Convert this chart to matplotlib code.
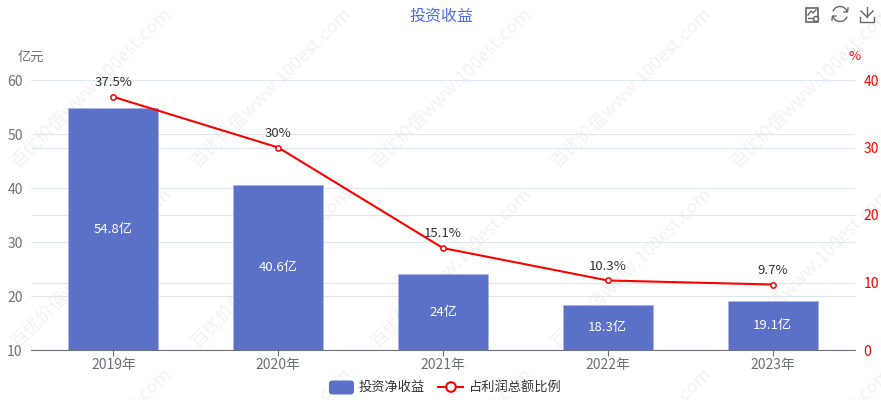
import matplotlib
matplotlib.use("Agg")
import matplotlib.pyplot as plt
from matplotlib.patches import Arc, Circle, FancyBboxPatch, Rectangle

plt.rcParams["font.family"] = ["Noto Sans CJK SC", "DejaVu Sans"]
plt.rcParams["axes.unicode_minus"] = False

W, H = 881, 400

years = ["2019年", "2020年", "2021年", "2022年", "2023年"]
income = [54.8, 40.6, 24, 18.3, 19.1]
income_labels = ["54.8亿", "40.6亿", "24亿", "18.3亿", "19.1亿"]
ratio = [37.5, 30, 15.1, 10.3, 9.7]
ratio_labels = ["37.5%", "30%", "15.1%", "10.3%", "9.7%"]
left_ticks = [10, 20, 30, 40, 50, 60]
right_ticks = [0, 10, 20, 30, 40]

BLUE = "#5b70c7"
GREY = "#6e7079"
GRID = "#e0e6f1"
RED = "#ff0000"
ICON = "#666666"

fig = plt.figure(figsize=(W / 100, H / 100), dpi=100)

# 画素座標で描く背景用と前面用の軸
bg = fig.add_axes([0, 0, 1, 1], zorder=0)
bg.set_xlim(0, W)
bg.set_ylim(H, 0)
bg.axis("off")
top = fig.add_axes([0, 0, 1, 1], zorder=5)
top.set_xlim(0, W)
top.set_ylim(H, 0)
top.axis("off")

# 透かし
for row_y in [168, 348, 528]:
    for x0 in [18, 198, 378, 558, 738]:
        bg.text(x0, row_y, "百优价值www.100est.com", fontsize=13, color="#f2f2f2", rotation=45,
                rotation_mode="anchor", ha="left", va="baseline", clip_on=True)

ax = fig.add_axes([31 / W, 1 - 350 / H, 824 / W, 270 / H], zorder=2)
ax.patch.set_visible(False)
ax2 = ax.twinx()
ax2.set_zorder(3)
ax2.patch.set_visible(False)

xs = list(range(len(years)))
ax.yaxis.grid(True, color=GRID, linewidth=0.8, zorder=1)
# 右軸の目盛線も棒の下に置く
ax.hlines([(v / 10) * 12.5 + 10 for v in right_ticks], -0.5, 4.5, color=GRID, linewidth=0.8, zorder=1)
ax.set_axisbelow(True)
bars = ax.bar(xs, income, width=90 / 164.8, color=BLUE, edgecolor="#a9b5e6", linewidth=0.5, zorder=2)
ax.set_xlim(-0.5, 4.5)
ax.set_ylim(10, 60)
ax.set_yticks(left_ticks)
ax.set_xticks(xs)
ax.set_xticklabels(years)
ax.tick_params(axis="x", colors=GREY, labelsize=10, length=4, width=0.8, pad=2)
ax.tick_params(axis="y", colors=GREY, labelsize=10, length=0, pad=6)
for b, t in zip(bars, income_labels):
    ax.text(b.get_x() + b.get_width() / 2, (b.get_height() + 10) / 2, t,
            color="white", fontsize=9.5, ha="center", va="center", zorder=5)

ax2.set_ylim(0, 40)
ax2.set_yticks(right_ticks)
ax2.tick_params(axis="y", colors=RED, labelsize=10, length=0, pad=6)
ax2.plot(xs, ratio, color=RED, linewidth=1.5, marker="o", markersize=3.8,
         markerfacecolor="white", markeredgecolor=RED, markeredgewidth=1.1, zorder=4)
for x, y, t in zip(xs, ratio, ratio_labels):
    ax2.annotate(t, (x, y), xytext=(0, 5.5), textcoords="offset points", color="#333333",
                 fontsize=9.5, ha="center", va="bottom")

for s in ["top", "left", "right"]:
    ax.spines[s].set_visible(False)
for s in ["top", "left", "bottom", "right"]:
    ax2.spines[s].set_visible(False)
ax.spines["bottom"].set_color(GREY)

top.text(441, 16, "投资收益", color="#4a6cf7", fontsize=11.5, ha="center", va="center")
top.text(31, 57, "亿元", color=GREY, fontsize=9.5, ha="center", va="center")
top.text(855, 57, "%", color=RED, fontsize=9.5, ha="center", va="center")

# 凡例
top.add_patch(FancyBboxPatch((329, 380.5), 25, 14, boxstyle="round,pad=0,rounding_size=3",
                             facecolor=BLUE, edgecolor="none"))
top.text(359, 387, "投资净收益", color="#333333", fontsize=9.5, ha="left", va="center")
top.plot([438, 463], [387, 387], color=RED, linewidth=1.5)
top.add_patch(Circle((451, 387), 4.8, facecolor="white", edgecolor=RED, linewidth=1.5, zorder=4))
top.text(469, 387, "占利润总额比例", color="#333333", fontsize=9.5, ha="left", va="center")

# ツールボックス
top.add_patch(Rectangle((806, 8), 12, 14, fill=False, edgecolor=ICON, linewidth=1.2))
top.plot([808, 811, 813, 816], [15, 11, 13, 10], color=ICON, linewidth=1)
top.plot([808, 815], [18, 18], color=ICON, linewidth=1)
top.add_patch(Circle((816, 19), 2.5, facecolor="white", edgecolor=ICON, linewidth=1.1, zorder=4))
top.add_patch(Arc((840, 14), 15, 15, theta1=200, theta2=340, edgecolor=ICON, linewidth=1))
top.add_patch(Arc((840, 14), 15, 15, theta1=20, theta2=160, edgecolor=ICON, linewidth=1))
top.plot([844, 847.5, 848], [12, 12, 8], color=ICON, linewidth=1)
top.plot([836, 832.5, 832], [16, 16, 20], color=ICON, linewidth=1)
top.plot([867, 867], [7, 17], color=ICON, linewidth=1)
top.plot([861, 867, 873], [11, 17, 11], color=ICON, linewidth=1)
top.plot([860, 860, 874, 874], [17, 22, 22, 17], color=ICON, linewidth=1)

fig.savefig("out.png", dpi=100)
